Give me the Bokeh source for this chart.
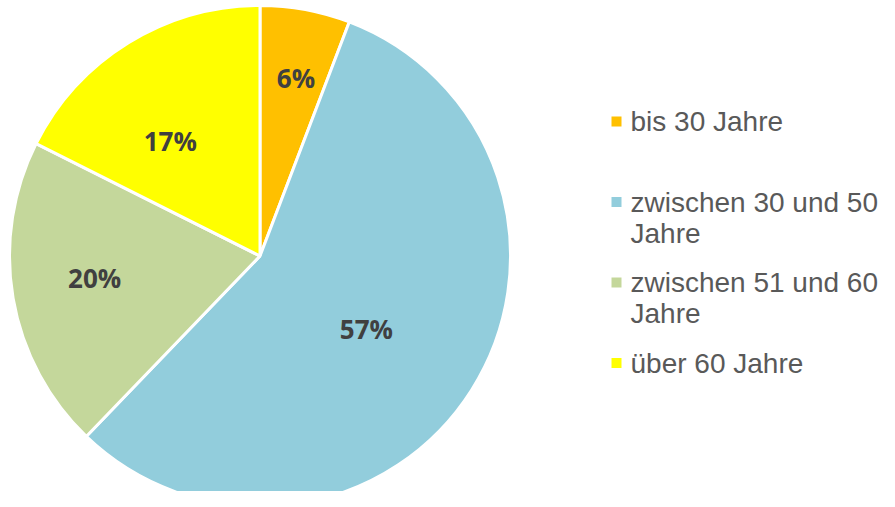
import math
from bokeh.plotting import figure
from bokeh.models import Range1d, ColumnDataSource
from bokeh.core.properties import value
from bokeh.embed import file_html
from bokeh.resources import INLINE

# ---- data ----
categories = ["bis 30 Jahre", "zwischen 30 und 50 Jahre",
              "zwischen 51 und 60 Jahre", "über 60 Jahre"]
shares = [5.8, 56.4, 20.2, 17.6]
pct_labels = ["6%", "57%", "20%", "17%"]
colors = ["#FFC000", "#92CDDC", "#C4D79B", "#FFFF00"]

# ---- layout / style ----
PAGE_H = 507
FIG_W, FIG_H = 879, 491
CX, CY = 259.5, PAGE_H - 255.5
R = 250.5
label_frac = [0.723, 0.514, 0.666, 0.582]
label_dang = [1.0, 1.9, 2.2, -6.3]   # degrees, clockwise tweak of label angle
LEG_SQ_X = 616
LEG_TX_X = 630
LEG_Y0 = 121
LEG_STEP = 80.5
LINE_H = 31
TXT_DY = 0

p = figure(width=FIG_W, height=FIG_H, output_backend="svg", toolbar_location=None,
           x_range=Range1d(0, FIG_W), y_range=Range1d(PAGE_H - FIG_H, PAGE_H),
           min_border=0, outline_line_color=None)
p.axis.visible = False
p.grid.visible = False
p.background_fill_color = "white"
p.border_fill_color = "white"

total = sum(shares)
starts, ends, mids = [], [], []
cum = 0.0
for s in shares:
    a0 = math.pi / 2 - 2 * math.pi * cum / total
    cum += s
    a1 = math.pi / 2 - 2 * math.pi * cum / total
    starts.append(a0)
    ends.append(a1)
    mids.append((a0 + a1) / 2)

src = ColumnDataSource(dict(start=starts, end=ends, color=colors))
p.wedge(x=CX, y=CY, radius=R, start_angle="start", end_angle="end",
        direction="clock", fill_color="color", line_color="white",
        line_width=3, source=src)

lang = [m - math.radians(d) for m, d in zip(mids, label_dang)]
lx = [CX + f * R * math.cos(a) for f, a in zip(label_frac, lang)]
ly = [CY + f * R * math.sin(a) for f, a in zip(label_frac, lang)]
p.text(x=lx, y=ly, text=pct_labels, text_align="center", text_baseline="middle",
       text_font=value("Open Sans"), text_font_style="bold",
       text_font_size="26px", text_color="#404040")


def wrap(t, maxlen=18):
    words = t.split(" ")
    lines, cur = [], ""
    for w in words:
        if cur and len(cur) + 1 + len(w) > maxlen:
            lines.append(cur)
            cur = w
        else:
            cur = (cur + " " + w) if cur else w
    lines.append(cur)
    return lines


sq_x, sq_y, tx, ty, tt = [], [], [], [], []
for i, c in enumerate(categories):
    yc = LEG_Y0 + i * LEG_STEP
    sq_x.append(LEG_SQ_X)
    sq_y.append(PAGE_H - yc)
    for j, line in enumerate(wrap(c)):
        tx.append(LEG_TX_X)
        ty.append(PAGE_H - (yc + TXT_DY + j * LINE_H))
        tt.append(line)

p.rect(x=sq_x, y=sq_y, width=10, height=10, fill_color=colors, line_color=None)
p.text(x=tx, y=ty, text=tt, text_align="left", text_baseline="alphabetic",
       text_font=value("Liberation Sans"), text_font_size="28px",
       text_color="#595959")

open("out.html", "w").write(file_html(p, INLINE))
